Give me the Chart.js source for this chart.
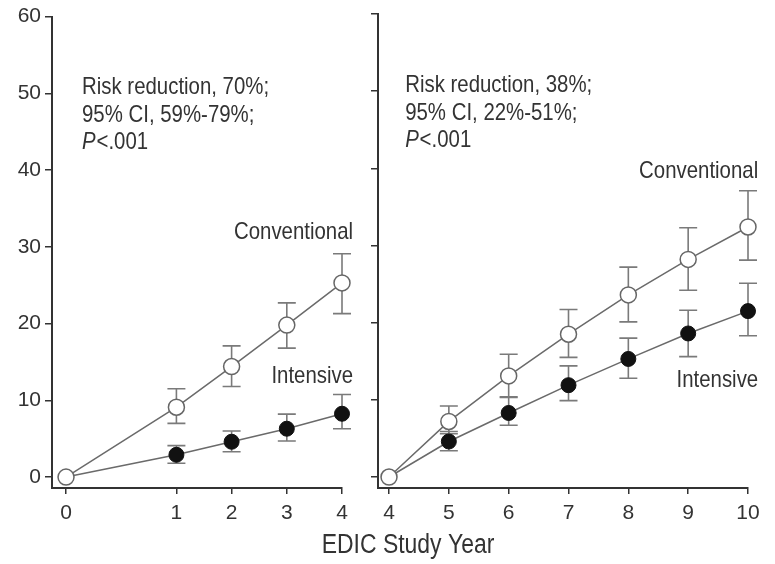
<!DOCTYPE html>
<html>
<head>
<meta charset="utf-8">
<script src="https://cdn.jsdelivr.net/npm/chart.js@4/dist/chart.umd.min.js"></script>
<style>
  html, body { margin: 0; padding: 0; background: #fff; }
  #wrap { position: relative; width: 775px; height: 564px; }
  canvas { position: absolute; left: 0; top: 0; }
</style>
</head>
<body>
<div id="wrap">
  <canvas id="left" width="775" height="564"></canvas>
  <canvas id="right" width="775" height="564"></canvas>
</div>
<script>
// ---------- data ----------
const yTicks = [0, 10, 20, 30, 40, 50, 60];

// Left panel: EDIC years 0-4
const yearsL = [0, 1, 2, 3, 4];
const convL   = [0, 9.1, 14.4, 19.8, 25.3];
const convLlo = [null, 7.0, 11.8, 16.8, 21.3];
const convLhi = [null, 11.5, 17.1, 22.7, 29.1];
const intL    = [0, 2.9, 4.6, 6.3, 8.25];
const intLlo  = [null, 1.8, 3.3, 4.7, 6.3];
const intLhi  = [null, 4.1, 6.0, 8.2, 10.75];

// Right panel: EDIC years 4-10
const yearsR = [4, 5, 6, 7, 8, 9, 10];
const convR   = [0, 7.2, 13.1, 18.5, 23.6, 28.2, 32.4];
const convRlo = [null, 5.6, 10.3, 15.5, 20.1, 24.2, 28.1];
const convRhi = [null, 9.2, 15.9, 21.7, 27.2, 32.3, 37.1];
const intR    = [0, 4.6, 8.3, 11.9, 15.3, 18.6, 21.5];
const intRlo  = [null, 3.4, 6.7, 9.9, 12.8, 15.6, 18.3];
const intRhi  = [null, 5.9, 10.4, 14.4, 18.0, 21.6, 25.1];

const seriesNames = ['Conventional', 'Intensive'];
const statsL = ['Risk reduction, 70%;', '95% CI, 59%-79%;', '<.001'];
const statsR = ['Risk reduction, 38%;', '95% CI, 22%-51%;', '<.001'];
const xTitle = 'EDIC Study Year';

// ---------- styling ----------
const FONT = '"Liberation Sans", Arial, sans-serif';
const NARROW = 0.85;       // horizontal squeeze to mimic a condensed face
const TEXT = '#333';
const AXIS = '#333';

// left panel axis break: year 0 sits two units before year 1
const posL = y => (y === 0 ? 0 : y + 1);

function pts(xs, ys, f) { return xs.map((x, i) => ({ x: f ? f(x) : x, y: ys[i] })); }

const errorBars = {
  id: 'errorBars',
  beforeDatasetsDraw(chart) {
    const ctx = chart.ctx, ys = chart.scales.y;
    ctx.save();
    ctx.strokeStyle = '#7a7a7a';
    ctx.lineWidth = 1.6;
    chart.data.datasets.forEach((ds, di) => {
      const meta = chart.getDatasetMeta(di);
      ds.data.forEach((p, i) => {
        const lo = ds.errLo[i], hi = ds.errHi[i];
        if (lo == null || hi == null) return;
        const x = meta.data[i].x;
        const yl = ys.getPixelForValue(lo), yh = ys.getPixelForValue(hi);
        ctx.beginPath();
        ctx.moveTo(x, yl); ctx.lineTo(x, yh);
        ctx.moveTo(x - 9, yl); ctx.lineTo(x + 9, yl);
        ctx.moveTo(x - 9, yh); ctx.lineTo(x + 9, yh);
        ctx.stroke();
      });
    });
    ctx.restore();
  }
};

function narrowText(ctx, parts, x, y, align, size) {
  // parts: [{text, italic}]
  ctx.save();
  ctx.translate(x, y);
  ctx.scale(NARROW, 1);
  ctx.textBaseline = 'alphabetic';
  ctx.textAlign = 'left';
  let total = 0;
  const widths = parts.map(p => {
    ctx.font = (p.italic ? 'italic ' : '') + size + 'px ' + FONT;
    const w = ctx.measureText(p.text).width + (p.gap || 0);
    total += w; return w;
  });
  let cx = align === 'right' ? -total : align === 'center' ? -total / 2 : 0;
  parts.forEach((p, i) => {
    ctx.font = (p.italic ? 'italic ' : '') + size + 'px ' + FONT;
    ctx.fillText(p.text, cx, 0);
    cx += widths[i];
  });
  ctx.restore();
}

const annotations = {
  id: 'annots',
  afterDraw(chart, args, opts) {
    const ctx = chart.ctx, xs = chart.scales.x, ys = chart.scales.y;
    ctx.save();
    ctx.fillStyle = TEXT;
    const sx = xs.getPixelForValue(opts.stats.x), sy = ys.getPixelForValue(opts.stats.y);
    narrowText(ctx, [{ text: opts.stats.lines[0] }], sx, sy, 'left', 24);
    narrowText(ctx, [{ text: opts.stats.lines[1] }], sx, sy + 28, 'left', 24);
    narrowText(ctx, [{ text: 'P', italic: true, gap: 1 }, { text: opts.stats.lines[2] }], sx, sy + 55, 'left', 24);
    opts.labels.forEach(l => {
      narrowText(ctx, [{ text: l.text }], xs.getPixelForValue(l.x), ys.getPixelForValue(l.y), 'right', 24);
    });
    if (opts.title) {
      narrowText(ctx, [{ text: opts.title.text }], opts.title.x, opts.title.y, 'center', 27);
    }
    ctx.restore();
  }
};

function yAxis(showLabels, width) {
  return {
    type: 'linear', min: -1.425, max: 60,
    afterBuildTicks: s => { s.ticks = yTicks.map(v => ({ value: v })); },
    afterFit: s => { s.width = width; },
    grid: { display: true, drawOnChartArea: false, drawTicks: true, tickLength: 7, color: AXIS, lineWidth: 1.5 },
    border: { display: true, color: AXIS, width: 2 },
    ticks: { display: showLabels, color: TEXT, padding: 4, font: { family: FONT, size: 21 } }
  };
}

function xAxis(min, max, tickVals, labelFor) {
  return {
    type: 'linear', min: min, max: max,
    afterBuildTicks: s => { s.ticks = tickVals.map(v => ({ value: v })); },
    afterFit: s => { s.height = 76; },
    grid: { display: true, drawOnChartArea: false, drawTicks: true, tickLength: 6, color: AXIS, lineWidth: 1.5 },
    border: { display: true, color: AXIS, width: 2 },
    ticks: { color: TEXT, padding: 7, maxRotation: 0, autoSkip: false, font: { family: FONT, size: 21 },
      callback: (v, i) => labelFor(i) }
  };
}

function datasets(xs, conv, convLo, convHi, inten, intLo, intHi, f) {
  return [
    { label: seriesNames[0], data: pts(xs, conv, f), errLo: convLo, errHi: convHi,
      borderColor: '#6a6a6a', borderWidth: 1.5, pointRadius: 8, pointBackgroundColor: '#fff',
      pointBorderColor: '#666', pointBorderWidth: 1.5, clip: false, tension: 0 },
    { label: seriesNames[1], data: pts(xs, inten, f), errLo: intLo, errHi: intHi,
      borderColor: '#6a6a6a', borderWidth: 1.5, pointRadius: 7.5, pointBackgroundColor: '#111',
      pointBorderColor: '#111', pointBorderWidth: 1, clip: false, tension: 0 }
  ];
}

const common = {
  responsive: false, animation: false, events: [],
  plugins: { legend: { display: false }, tooltip: { enabled: false } }
};

new Chart(document.getElementById('left'), {
  type: 'line',
  data: { datasets: datasets(yearsL, convL, convLlo, convLhi, intL, intLlo, intLhi, posL) },
  options: Object.assign({}, common, {
    layout: { padding: { left: 0, top: 14, right: 433, bottom: 0 } },
    scales: {
      x: xAxis(-0.254, 5, yearsL.map(posL), i => String(yearsL[i])),
      y: yAxis(true, 52)
    },
    plugins: Object.assign({}, common.plugins, {
      annots: {
        stats: { x: 0.29, y: 49.9, lines: statsL },
        labels: [ { text: seriesNames[0], x: 5.2, y: 31.0 }, { text: seriesNames[1], x: 5.2, y: 12.3 } ]
      }
    })
  }),
  plugins: [errorBars, annotations]
});

new Chart(document.getElementById('right'), {
  type: 'line',
  data: { datasets: datasets(yearsR, convR, convRlo, convRhi, intR, intRlo, intRhi) },
  options: Object.assign({}, common, {
    layout: { padding: { left: 368, top: 14, right: 27, bottom: 0 } },
    scales: {
      x: xAxis(3.816, 10, yearsR, i => String(yearsR[i])),
      y: yAxis(false, 10)
    },
    plugins: Object.assign({}, common.plugins, {
      annots: {
        stats: { x: 4.27, y: 49.9, lines: statsR },
        labels: [ { text: seriesNames[0], x: 10.17, y: 38.75 }, { text: seriesNames[1], x: 10.17, y: 11.66 } ],
        title: { text: xTitle, x: 408, y: 553 }
      }
    })
  }),
  plugins: [errorBars, annotations]
});
</script>
</body>
</html>
